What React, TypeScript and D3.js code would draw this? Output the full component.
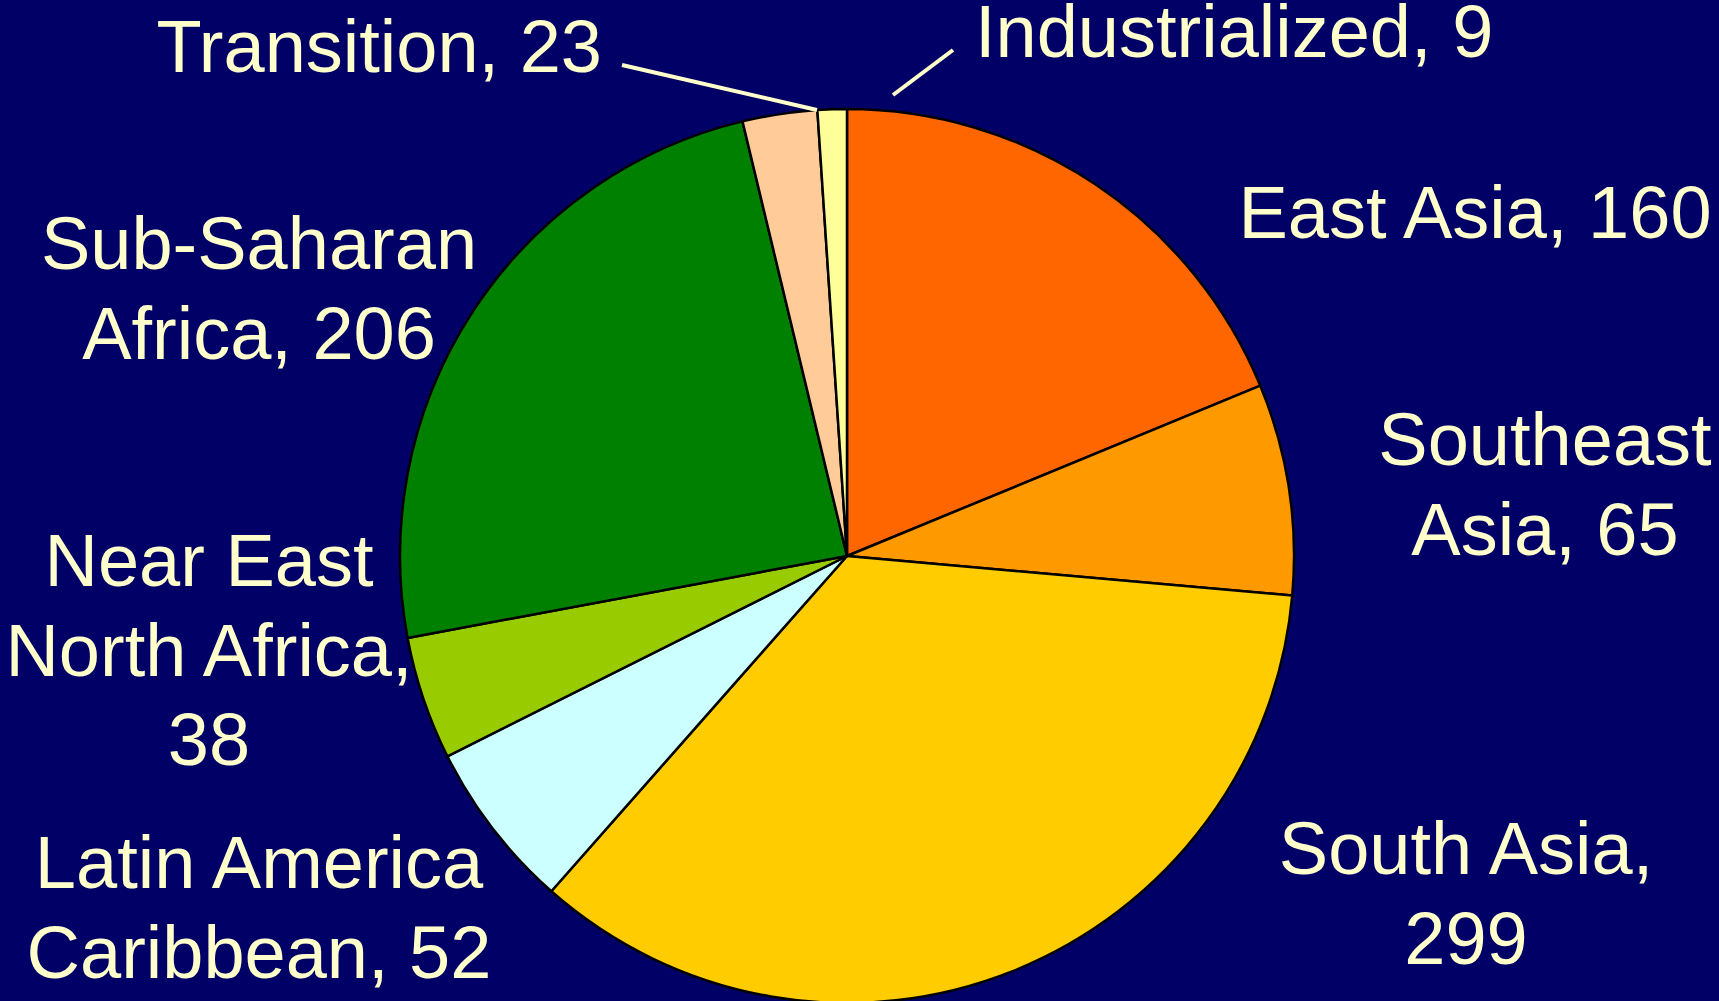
import React from 'react';
import * as d3 from 'd3';

const regions = [
  'East Asia',
  'Southeast Asia',
  'South Asia',
  'Latin America Caribbean',
  'Near East North Africa',
  'Sub-Saharan Africa',
  'Transition',
  'Industrialized',
];
const values = [160, 65, 299, 52, 38, 206, 23, 9];
const colors = ['#FF6600', '#FF9900', '#FFCC00', '#CCFFFF', '#99CC00', '#008000', '#FFCC99', '#FFFF99'];

// label lines as they are broken in the original slide
const labelLines = [
  ['East Asia, 160'],
  ['Southeast', 'Asia, 65'],
  ['South Asia,', '299'],
  ['Latin America', 'Caribbean, 52'],
  ['Near East', 'North Africa,', '38'],
  ['Sub-Saharan', 'Africa, 206'],
  ['Transition, 23'],
  ['Industrialized, 9'],
];

const W = 1719;
const H = 1001;
const cx = 847;
const cy = 556;
const radius = 447;
const fg = '#FFFFCC';

// label placement: [x, first baseline, anchor]
const labelPos: [number, number, string][] = [
  [1475, 238, 'middle'],
  [1545, 465, 'middle'],
  [1466, 874, 'middle'],
  [259, 888, 'middle'],
  [209, 586, 'middle'],
  [259, 269, 'middle'],
  [602, 72, 'end'],
  [975, 57, 'start'],
];

// leader lines for the thin slices, outer end then inner end
const leaders: Record<number, [number, number, number, number]> = {
  6: [622, 65, 817, 110],
  7: [953, 50, 893, 95],
};

export default function App() {
  const data = regions.map((r, i) => ({ region: r, value: values[i], color: colors[i] }));
  const pie = d3.pie<typeof data[number]>().sort(null).value(d => d.value);
  const arc = d3.arc<d3.PieArcDatum<typeof data[number]>>().innerRadius(0).outerRadius(radius);
  const arcs = pie(data);

  return (
    <svg
      width={W}
      height={H}
      style={{ position: 'absolute', left: 0, top: 0, display: 'block' }}
      fontFamily="'Liberation Sans', Arial, sans-serif"
    >
      <rect width={W} height={H} fill="#000066" />
      <g transform={`translate(${cx},${cy})`}>
        {arcs.map((a, i) => (
          <path key={i} d={arc(a) || ''} fill={a.data.color} stroke="#000" strokeWidth={2.5} strokeLinejoin="round" />
        ))}
      </g>
      {Object.entries(leaders).map(([k, l]) => (
        <line key={k} x1={l[0]} y1={l[1]} x2={l[2]} y2={l[3]} stroke={fg} strokeWidth={4} />
      ))}
      {labelLines.map((lines, i) => (
        <text key={i} x={labelPos[i][0]} y={labelPos[i][1]} textAnchor={labelPos[i][2]} fill={fg} fontSize={74}>
          {lines.map((t, j) => (
            <tspan key={j} x={labelPos[i][0]} dy={j === 0 ? 0 : 89.5}>
              {t}
            </tspan>
          ))}
        </text>
      ))}
    </svg>
  );
}
